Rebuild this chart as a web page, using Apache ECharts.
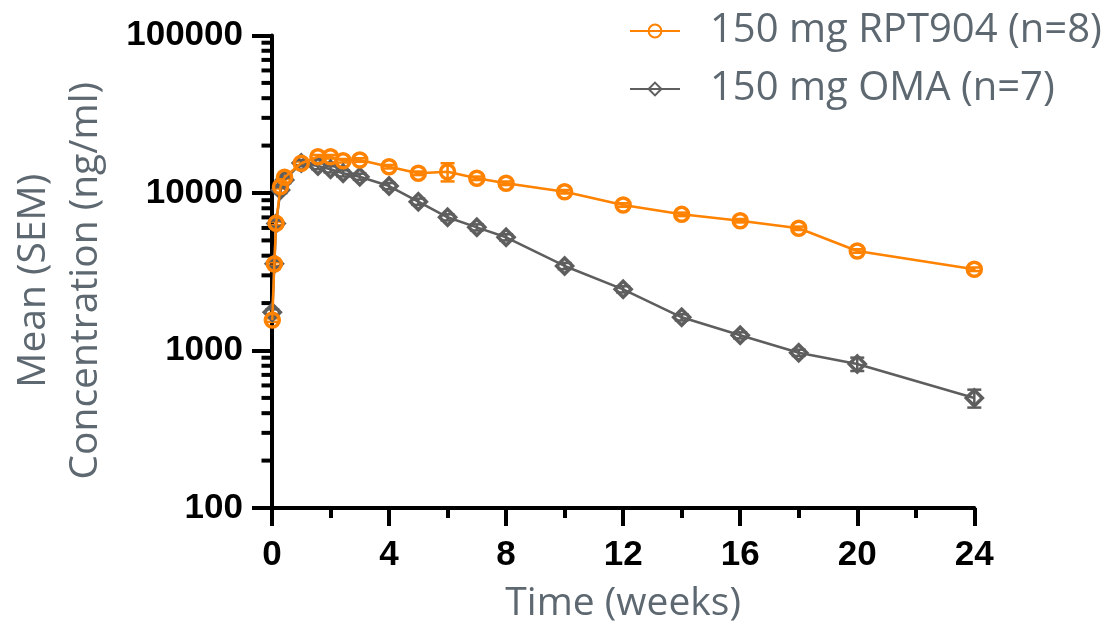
<!DOCTYPE html>
<html>
<head>
<meta charset="utf-8">
<script src="https://cdn.jsdelivr.net/npm/echarts@6/dist/echarts.min.js"></script>
<style>html,body{margin:0;padding:0;background:#fff;}#main{width:1119px;height:629px;}</style>
</head>
<body>
<div id="main"></div>
<script>
// ---- data ----
const seriesNames = ['150 mg RPT904 (n=8)', '150 mg OMA (n=7)'];
const timesWeeks = [0.01, 0.08, 0.14, 0.29, 0.43, 1, 1.57, 2, 2.43, 3, 4, 5, 6, 7, 8, 10, 12, 14, 16, 18, 20, 24];
const rptMean = [1560, 3540, 6420, 10970, 12580, 15440, 16990, 16990, 16030, 16200, 14690, 13340, 13650, 12400, 11530, 10190, 8390, 7320, 6670, 5970, 4285, 3280];
const rptSem  = [40, 90, 160, 280, 320, 400, 450, 450, 420, 420, 380, 350, 1800, 320, 300, 260, 220, 190, 170, 150, 110, 85];
const omaMean = [1750, 3560, 6400, 10450, 12100, 15500, 14840, 14140, 13340, 12690, 11070, 8810, 7010, 6055, 5235, 3440, 2447, 1625, 1249, 968, 821, 499];
const omaSem  = [75, 160, 290, 470, 540, 700, 670, 640, 600, 570, 500, 400, 315, 270, 235, 155, 110, 73, 56, 44, 80, 65];
const xTicks = [0, 4, 8, 12, 16, 20, 24];
const yMajorTicks = [100, 1000, 10000, 100000];
const yMinorTicks = [200, 300, 400, 500, 600, 700, 800, 900,
                     2000, 3000, 4000, 5000, 6000, 7000, 8000, 9000,
                     20000, 30000, 40000, 50000, 60000, 70000, 80000, 90000];

// ---- styles ----
const ORANGE = '#FF8200';
const GRAY = '#5E5E5E';
const TEXT_GRAY = '#5D6871';
const tickFont = { fontFamily: 'Liberation Sans', fontWeight: 'bold', fontSize: 35, color: '#000' };
const titleFont = 'Open Sans';
const titleWeight = 400;

function pairs(xs, ys) { return xs.map((x, i) => [x, ys[i]]); }
function errData(xs, m, s) { return xs.map((x, i) => [x, m[i] - s[i], m[i] + s[i]]); }

function errRender(color) {
  return function (params, api) {
    const x = api.value(0), lo = api.value(1), hi = api.value(2);
    const pTop = api.coord([x, hi]);
    const pBot = api.coord([x, lo]);
    const hw = 7;
    const st = { stroke: color, lineWidth: 2.5 };
    return {
      type: 'group',
      children: [
        { type: 'line', shape: { x1: pTop[0], y1: pTop[1], x2: pBot[0], y2: pBot[1] }, style: st },
        { type: 'line', shape: { x1: pTop[0] - hw, y1: pTop[1], x2: pTop[0] + hw, y2: pTop[1] }, style: st },
        { type: 'line', shape: { x1: pBot[0] - hw, y1: pBot[1], x2: pBot[0] + hw, y2: pBot[1] }, style: st }
      ]
    };
  };
}

const chart = echarts.init(document.getElementById('main'), null, { renderer: 'canvas' });
chart.setOption({
  animation: false,
  backgroundColor: '#fff',
  grid: { left: 270.7, right: 144.7, top: 35.5, bottom: 121 },
  legend: {
    data: seriesNames,
    orient: 'vertical',
    left: 624,
    top: 4,
    itemWidth: 50,
    itemHeight: 16,
    itemGap: 14,
    textStyle: { fontFamily: titleFont, fontWeight: titleWeight, fontSize: 40, color: TEXT_GRAY, padding: [0, 0, 0, 25], lineHeight: 44 }
  },
  xAxis: {
    type: 'value',
    min: 0, max: 24, interval: 4,
    name: 'Time (weeks)',
    nameLocation: 'middle',
    nameGap: 76,
    nameTextStyle: { fontFamily: titleFont, fontWeight: titleWeight, fontSize: 39, color: TEXT_GRAY },
    axisLine: { lineStyle: { color: '#000', width: 4 } },
    axisTick: { show: true, length: 18, lineStyle: { color: '#000', width: 4 } },
    minorTick: { show: true, splitNumber: 2, length: 10, lineStyle: { color: '#000', width: 4 } },
    axisLabel: Object.assign({ margin: 30, formatter: v => String(v) }, tickFont),
    splitLine: { show: false }
  },
  yAxis: {
    type: 'log',
    logBase: 10,
    min: yMajorTicks[0], max: yMajorTicks[yMajorTicks.length - 1],
    splitNumber: 3,
    name: 'Mean (SEM)\nConcentration (ng/ml)',
    nameLocation: 'middle',
    nameGap: 160,
    nameRotate: 90,
    nameTextStyle: { fontFamily: titleFont, fontWeight: titleWeight, fontSize: 39, color: TEXT_GRAY, lineHeight: 52, padding: [0, 18, 0, 0] },
    axisLine: { onZero: false, lineStyle: { color: '#000', width: 4 } },
    axisTick: { show: true, length: 20, lineStyle: { color: '#000', width: 4 } },
    axisLabel: Object.assign({ margin: 29, formatter: v => String(Math.round(v)) }, tickFont),
    splitLine: { show: false }
  },
  series: [
    {
      type: 'custom', name: 'yMinor', silent: true, clip: false,
      data: yMinorTicks.map(v => [0, v]),
      renderItem: function (params, api) {
        const p = api.coord([0, api.value(1)]);
        return { type: 'line', shape: { x1: p[0] - 10.5, y1: p[1], x2: p[0], y2: p[1] }, style: { stroke: '#000', lineWidth: 4 } };
      },
      z: 1
    },
    {
      type: 'custom', name: 'rptErr', silent: true, clip: false,
      data: errData(timesWeeks, rptMean, rptSem),
      renderItem: errRender(ORANGE), z: 2
    },
    {
      type: 'custom', name: 'omaErr', silent: true, clip: false,
      data: errData(timesWeeks, omaMean, omaSem),
      renderItem: errRender(GRAY), z: 2
    },
    {
      type: 'line', name: seriesNames[1],
      data: pairs(timesWeeks, omaMean),
      symbol: 'diamond', symbolSize: 16,
      lineStyle: { color: GRAY, width: 2.5 },
      itemStyle: { color: 'rgba(255,255,255,0)', borderColor: GRAY, borderWidth: 3.5 },
      z: 3
    },
    {
      type: 'line', name: seriesNames[0],
      data: pairs(timesWeeks, rptMean),
      symbol: 'circle', symbolSize: 14,
      lineStyle: { color: ORANGE, width: 2.5 },
      itemStyle: { color: 'rgba(255,255,255,0)', borderColor: ORANGE, borderWidth: 3.5 },
      z: 4
    }
  ]
});
</script>
</body>
</html>
